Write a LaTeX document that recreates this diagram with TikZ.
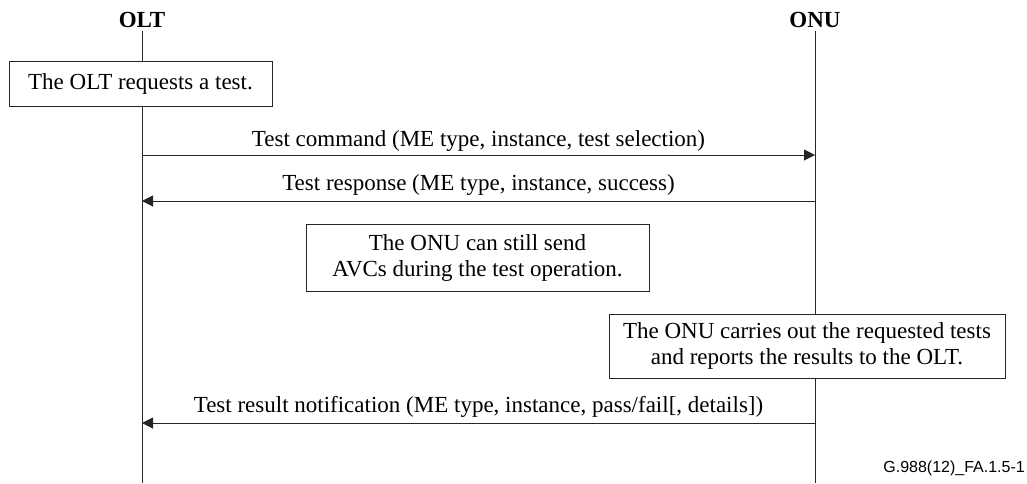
\documentclass[tikz,border=0pt]{standalone}
\usepackage{fontspec}
\setmainfont{Liberation Serif}
\newfontfamily\footfont{Liberation Sans}
\usetikzlibrary{arrows.meta}
\begin{document}
\begin{tikzpicture}[x=1pt,y=-1pt,
  every node/.style={font=\fontsize{23}{26}\selectfont},
  lifeline/.style={draw=black!85, line width=1pt},
  notebox/.style={draw=black!85, line width=1pt, fill=white, align=center, inner sep=0pt},
  msg/.style={draw=black!85, line width=1pt, -{Triangle[length=11pt,width=11pt]}},
  msglabel/.style={above, inner sep=3.5pt},
  actor/.style={font=\fontsize{23}{26}\selectfont\bfseries}
]
\useasboundingbox (0,0) rectangle (1027,483);
% actors
\node[actor] (olt) at (142,20) {OLT};
\node[actor] (onu) at (815,20) {ONU};
\coordinate (oltend) at (142,483);
\coordinate (onuend) at (815,483);
\coordinate (olttop) at (142,31);
\coordinate (onutop) at (815,31);
\draw[lifeline] (olttop) -- (oltend);
\draw[lifeline] (onutop) -- (onuend);
% boxes
\node[notebox, minimum width=263pt, minimum height=45pt] (b1) at (140.5,83.5) {The OLT requests a test.};
\node[notebox, minimum width=343pt, minimum height=67pt] (b2) at (477.5,257.5) {The ONU can still send\\AVCs during the test operation.};
\node[notebox, minimum width=396pt, minimum height=64pt] (b3) at (807,346) {The ONU carries out the requested tests\\and reports the results to the OLT.};
% messages
\coordinate (a1s) at (142,155); \coordinate (a1e) at (815,155);
\coordinate (a2s) at (815,201); \coordinate (a2e) at (142,201);
\coordinate (a3s) at (815,423); \coordinate (a3e) at (142,423);
\draw[msg] (a1s) -- node[msglabel] {Test command (ME type, instance, test selection)} (a1e);
\draw[msg] (a2s) -- node[msglabel, inner sep=5pt] {Test response (ME type, instance, success)} (a2e);
\draw[msg] (a3s) -- node[msglabel, inner sep=5pt] {Test result notification (ME type, instance, pass/fail[, details])} (a3e);
% footer
\node[anchor=base east, inner sep=0pt, font=\footfont\fontsize{16}{18}\selectfont] (fig) at (1025,472) {G.988(12)\_FA.1.5-1};
\end{tikzpicture}
\end{document}
